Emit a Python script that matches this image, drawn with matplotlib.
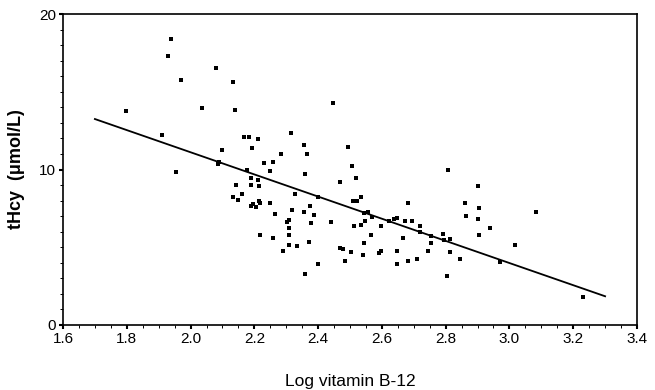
import numpy as np
import matplotlib.pyplot as plt

plt.rcParams['font.family'] = ['Liberation Sans', 'DejaVu Sans']

# log vitamin B-12 vs tHcy
log_b12 = [1.797, 1.939, 1.929, 1.970, 2.036, 2.080, 2.133, 2.140, 1.910, 1.954,
           2.100, 2.090, 2.085, 2.167, 2.183, 2.211, 2.192, 2.177, 2.190, 2.210,
           2.142, 2.190, 2.214, 2.230, 2.260, 2.250, 2.283, 2.315, 2.355, 2.365,
           2.360, 2.327, 2.160, 2.133, 2.446, 2.493, 2.506, 2.470, 2.520, 2.534,
           2.807, 2.900, 2.149, 2.190, 2.205, 2.196, 2.214, 2.218, 2.249, 2.265,
           2.218, 2.258, 2.290, 2.318, 2.302, 2.310, 2.308, 2.308, 2.310, 2.333,
           2.355, 2.374, 2.387, 2.377, 2.371, 2.360, 2.400, 2.400, 2.440, 2.468,
           2.477, 2.484, 2.503, 2.510, 2.522, 2.512, 2.534, 2.544, 2.556, 2.547,
           2.569, 2.544, 2.540, 2.566, 2.590, 2.597, 2.597, 2.622, 2.638, 2.647,
           2.647, 2.647, 2.666, 2.672, 2.681, 2.681, 2.694, 2.710, 2.720, 2.720,
           2.744, 2.753, 2.753, 2.791, 2.794, 2.813, 2.813, 2.804, 2.845, 2.860,
           2.863, 2.904, 2.900, 2.904, 2.939, 2.970, 3.017, 3.083, 3.230]
thcy = [13.76, 18.40, 17.30, 15.75, 13.95, 16.50, 15.60, 13.80, 12.20, 9.85,
        11.25, 10.50, 10.35, 12.10, 12.10, 11.95, 11.40, 9.95, 9.45, 9.30,
        9.00, 9.00, 8.94, 10.40, 10.50, 9.90, 11.00, 12.35, 11.60, 11.00,
        9.70, 8.40, 8.40, 8.20, 14.30, 11.45, 10.25, 9.20, 9.45, 8.23,
        9.95, 8.94, 8.04, 7.65, 7.60, 7.75, 7.97, 5.79, 7.85, 7.14,
        7.85, 5.60, 4.76, 7.40, 6.60, 6.75, 6.24, 5.79, 5.14, 5.08,
        7.27, 7.65, 7.07, 6.56, 5.34, 3.28, 3.92, 8.20, 6.62, 4.95,
        4.89, 4.12, 4.69, 7.97, 7.97, 6.37, 6.43, 7.20, 7.27, 6.69,
        6.95, 5.27, 4.50, 5.79, 4.63, 4.76, 6.37, 6.69, 6.82, 6.88,
        4.76, 3.92, 5.60, 6.69, 7.85, 4.12, 6.69, 4.24, 6.37, 5.98,
        4.76, 5.27, 5.72, 5.85, 5.47, 5.53, 4.69, 3.15, 4.24, 7.85,
        7.00, 7.52, 6.82, 5.79, 6.24, 4.05, 5.14, 7.27, 1.80]

# fitted line
fit_x = [1.7, 3.3]
fit_intercept = 25.36
fit_slope = -7.125

fig = plt.figure(figsize=(6.55, 3.9), dpi=100)
ax = fig.add_axes([0.0962, 0.1667, 0.8763, 0.7973])

ax.scatter(log_b12, thcy, marker='s', s=6, color='black', linewidths=0)
fx = np.array(fit_x)
ax.plot(fx, fit_intercept + fit_slope * fx, color='black', linewidth=1.3)

ax.set_xlim(1.6, 3.4)
ax.set_ylim(0, 20)
ax.set_xticks(np.arange(1.6, 3.41, 0.2))
ax.set_xticklabels(['1.6', '1.8', '2.0', '2.2', '2.4', '2.6', '2.8', '3.0', '3.2', '3.4'])
ax.set_xticks(np.arange(1.6, 3.41, 0.05), minor=True)
ax.set_yticks([0, 10, 20])
ax.set_yticks(np.arange(0, 21, 1), minor=True)
ax.tick_params(axis='both', which='major', labelsize=11, length=3, width=1.5, direction='out', pad=2)
ax.tick_params(axis='both', which='minor', length=2, width=0.7, direction='out')
for s in ax.spines.values():
    s.set_linewidth(1.2)

ax.set_ylabel('tHcy  (μmol/L)', fontsize=13, fontweight='bold', labelpad=10)
ax.set_xlabel('Log vitamin B-12', fontsize=12.5, labelpad=20)

fig.savefig('out.png', dpi=100)
